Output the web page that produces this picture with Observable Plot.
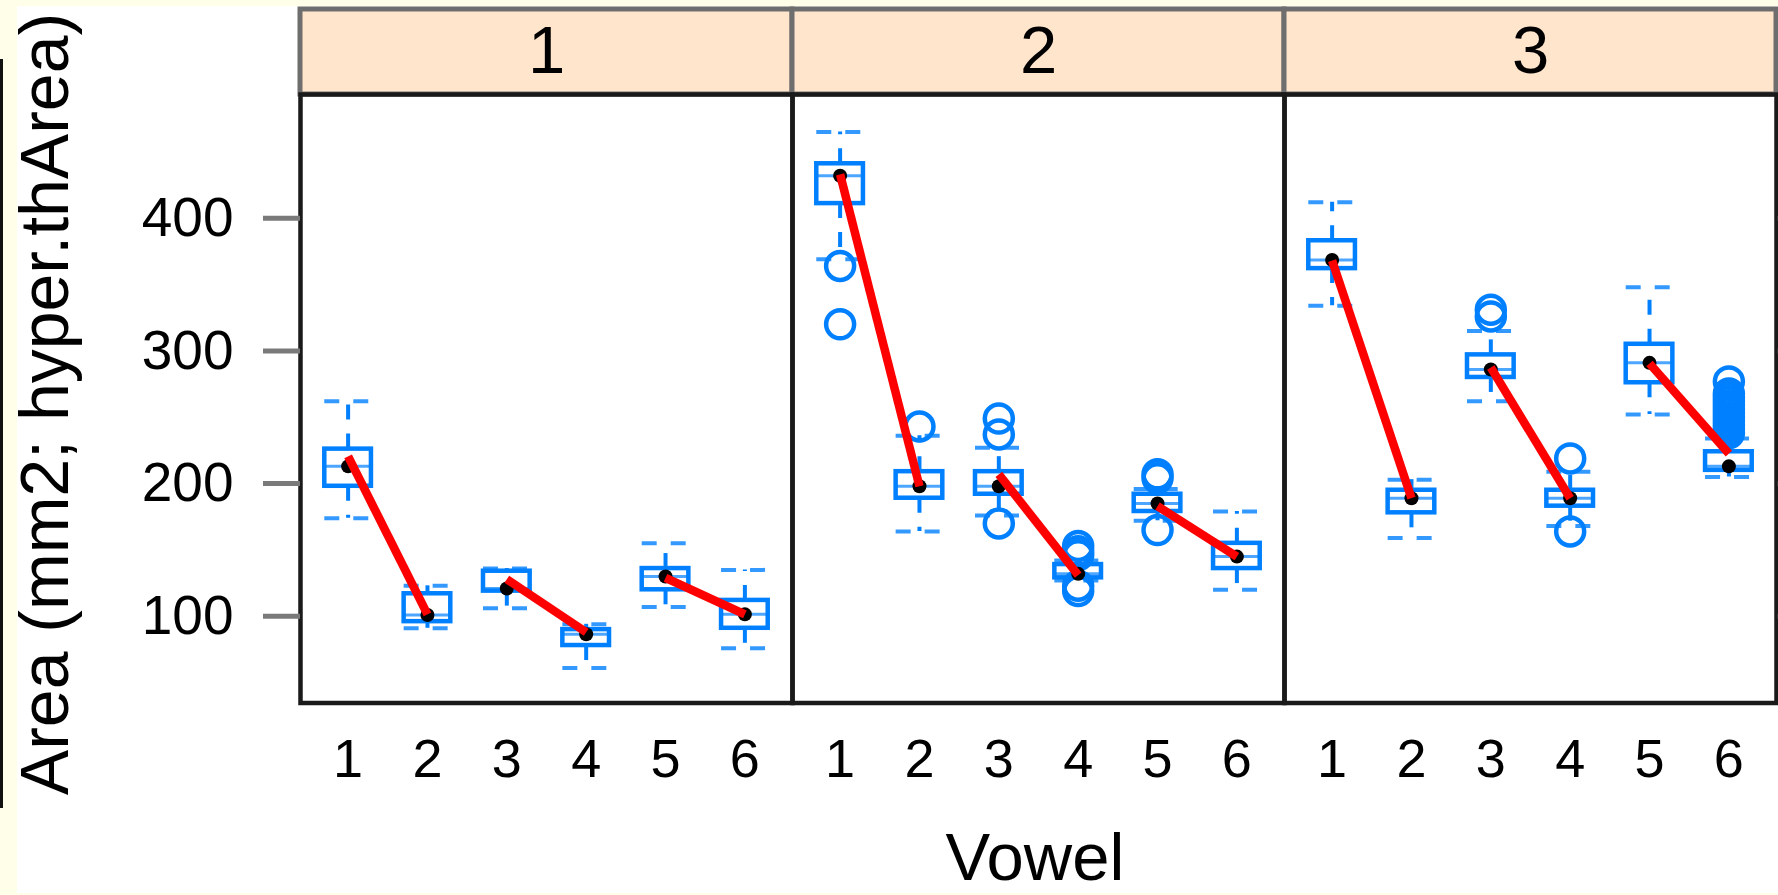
<!DOCTYPE html>
<html><head><meta charset="utf-8">
<script src="https://cdn.jsdelivr.net/npm/d3@7"></script>
<script src="https://cdn.jsdelivr.net/npm/@observablehq/plot@0.6"></script>
<style>
html,body{margin:0;padding:0;background:#fffee8;width:1778px;height:895px;overflow:hidden;font-family:"Liberation Sans",Arial,sans-serif;}
#wrap{position:absolute;left:17px;top:6px;width:1761px;height:887px;background:#fff;}
#edge{position:absolute;left:0;top:59px;width:3px;height:749px;background:#111;}
</style></head><body>
<div id="edge"></div>
<div id="wrap"></div>
<script>
// ---- data ----
const panels = ["1", "2", "3"];
const vowels = [1, 2, 3, 4, 5, 6];
const yTicks = [100, 200, 300, 400];
const pairs = [[1, 2], [3, 4], [5, 6]];

const whiskerLow  = [[174, 91, 106, 61, 107, 76], [369, 164, 176, 127, 172, 120], [334, 159, 262, 168, 252, 205]];
const quart1      = [[198, 96, 119, 78, 120, 91], [411, 189, 192, 129, 179, 136], [362, 178, 280, 183, 276, 210]];
const medians     = [[213, 101, 121, 86.5, 130, 101.5], [432, 198, 198, 132, 185, 145], [368.5, 189, 286, 189, 291, 213]];
const quart3      = [[226, 117, 134, 90, 136, 112], [441, 209, 209, 139, 192, 155], [383, 195, 297, 195, 305, 224]];
const whiskerHigh = [[262, 123, 136, 94, 155, 135], [465, 236, 227, 142, 196, 179], [412, 203, 315, 209, 348, 234]];
const means       = [[220.5, 101.5, 128, 88, 129, 101.5], [433, 198, 207, 131, 183, 145], [368, 189, 287.5, 189, 290.5, 222.6]];
const outliers = [
  [[], [], [], [], [], []],
  [[364, 320], [243], [249, 237, 170], [153, 149, 146, 123, 119], [207, 204, 165], []],
  [[], [], [331, 326], [219, 164], [], [277, 268, 265, 262, 259, 256, 253, 250, 247, 244, 241, 238]]
];
const yTitle = "Area (mm2; hyper.thArea)";
const xTitle = "Vowel";

// ---- tables built from the arrays ----
const boxes = panels.flatMap((p, i) => vowels.map((v, j) => ({
  panel: p, vowel: v, lo: whiskerLow[i][j], q1: quart1[i][j], med: medians[i][j],
  q3: quart3[i][j], hi: whiskerHigh[i][j], mean: means[i][j]
})));
const outl = panels.flatMap((p, i) => vowels.flatMap((v, j) => outliers[i][j].map(value => ({panel: p, vowel: v, value}))));
const links = panels.flatMap((p, i) => pairs.map(([a, b]) => ({panel: p, xa: a, ya: means[i][a - 1], xb: b, yb: means[i][b - 1]})));

// ---- layout ----
const W = 1761, H = 887;
const mTop = 88, mBottom = 190.5, mLeft = 282.3, mRight = 2;
const yDom = [34.7, 493.2];
const xDom = [0.4, 6.6];
const halfBox = 0.294;
const pxPerUnit = (H - mTop - mBottom) / (yDom[1] - yDom[0]);
const stripTop = yDom[1] + (mTop - 3) / pxPerUnit;
const blue = "#0080ff";
const dash = "15,14";

const svg = Plot.plot({
  width: W, height: H,
  marginTop: mTop, marginBottom: mBottom, marginLeft: mLeft, marginRight: mRight,
  style: {fontFamily: "'Liberation Sans', Arial, sans-serif", background: "transparent", color: "black", overflow: "visible"},
  fx: {domain: panels, padding: 0, axis: null, label: null},
  x: {domain: xDom, label: null},
  y: {domain: yDom, label: null},
  marks: [
    // strips
    Plot.rect(panels, {fx: d => d, x1: xDom[0], x2: xDom[1], y1: yDom[1], y2: stripTop, fill: "#ffe5cc", stroke: "#6e6e6e", strokeWidth: 5}),
    Plot.text(panels, {fx: d => d, text: d => d, x: (xDom[0] + xDom[1]) / 2, y: (yDom[1] + stripTop) / 2, fontSize: 67, lineAnchor: "middle", fill: "black"}),
    // whiskers (dashed)
    Plot.ruleX(boxes, {fx: "panel", x: "vowel", y1: "q3", y2: "hi", stroke: blue, strokeWidth: 4, strokeDasharray: dash}),
    Plot.ruleX(boxes, {fx: "panel", x: "vowel", y1: "q1", y2: "lo", stroke: blue, strokeWidth: 4, strokeDasharray: dash}),
    Plot.ruleY(boxes, {fx: "panel", y: "hi", x1: d => d.vowel - halfBox, x2: d => d.vowel + halfBox, stroke: blue, strokeWidth: 4, strokeDasharray: dash, strokeOpacity: 0.8}),
    Plot.ruleY(boxes, {fx: "panel", y: "lo", x1: d => d.vowel - halfBox, x2: d => d.vowel + halfBox, stroke: blue, strokeWidth: 4, strokeDasharray: dash, strokeOpacity: 0.8}),
    // boxes
    Plot.rect(boxes, {fx: "panel", x1: d => d.vowel - halfBox, x2: d => d.vowel + halfBox, y1: "q1", y2: "q3", fill: "white", stroke: blue, strokeWidth: 4.5}),
    Plot.ruleY(boxes, {fx: "panel", y: "med", x1: d => d.vowel - halfBox, x2: d => d.vowel + halfBox, stroke: blue, strokeWidth: 3, strokeOpacity: 0.7}),
    // outliers
    Plot.dot(outl, {fx: "panel", x: "vowel", y: "value", r: 14, stroke: blue, strokeWidth: 4.5, fill: "none"}),
    // medians
    Plot.dot(boxes, {fx: "panel", x: "vowel", y: "med", r: 7, fill: "black", stroke: "none"}),
    // mean links
    Plot.link(links, {fx: "panel", x1: "xa", y1: "ya", x2: "xb", y2: "yb", stroke: "#ff0000", strokeWidth: 8.5}),
    // frame & axes
    Plot.frame({stroke: "#1a1a1a", strokeWidth: 4.5}),
    Plot.axisY(yTicks, {anchor: "left", tickSize: 37, tickPadding: 30, fontSize: 55, stroke: "#7a7a7a", strokeWidth: 5, fill: "black", label: null}),
    Plot.axisY(yTicks, {anchor: "right", tickSize: 12, tickFormat: () => "", stroke: "#333", strokeWidth: 5, label: null}),
    Plot.axisX(vowels, {anchor: "bottom", tickSize: 0, tickPadding: 36, fontSize: 54, fill: "black", label: null})
  ]
});

const s = d3.select(svg);
s.append("text")
  .attr("transform", `translate(${68.3 - 17},${404 - 6}) rotate(-90)`)
  .attr("text-anchor", "middle").attr("font-size", 68).attr("fill", "black")
  .text(yTitle);
s.append("text")
  .attr("x", 1035 - 17).attr("y", 880 - 6)
  .attr("text-anchor", "middle").attr("font-size", 67).attr("fill", "black")
  .text(xTitle);

document.getElementById("wrap").appendChild(svg);
</script>
</body></html>
